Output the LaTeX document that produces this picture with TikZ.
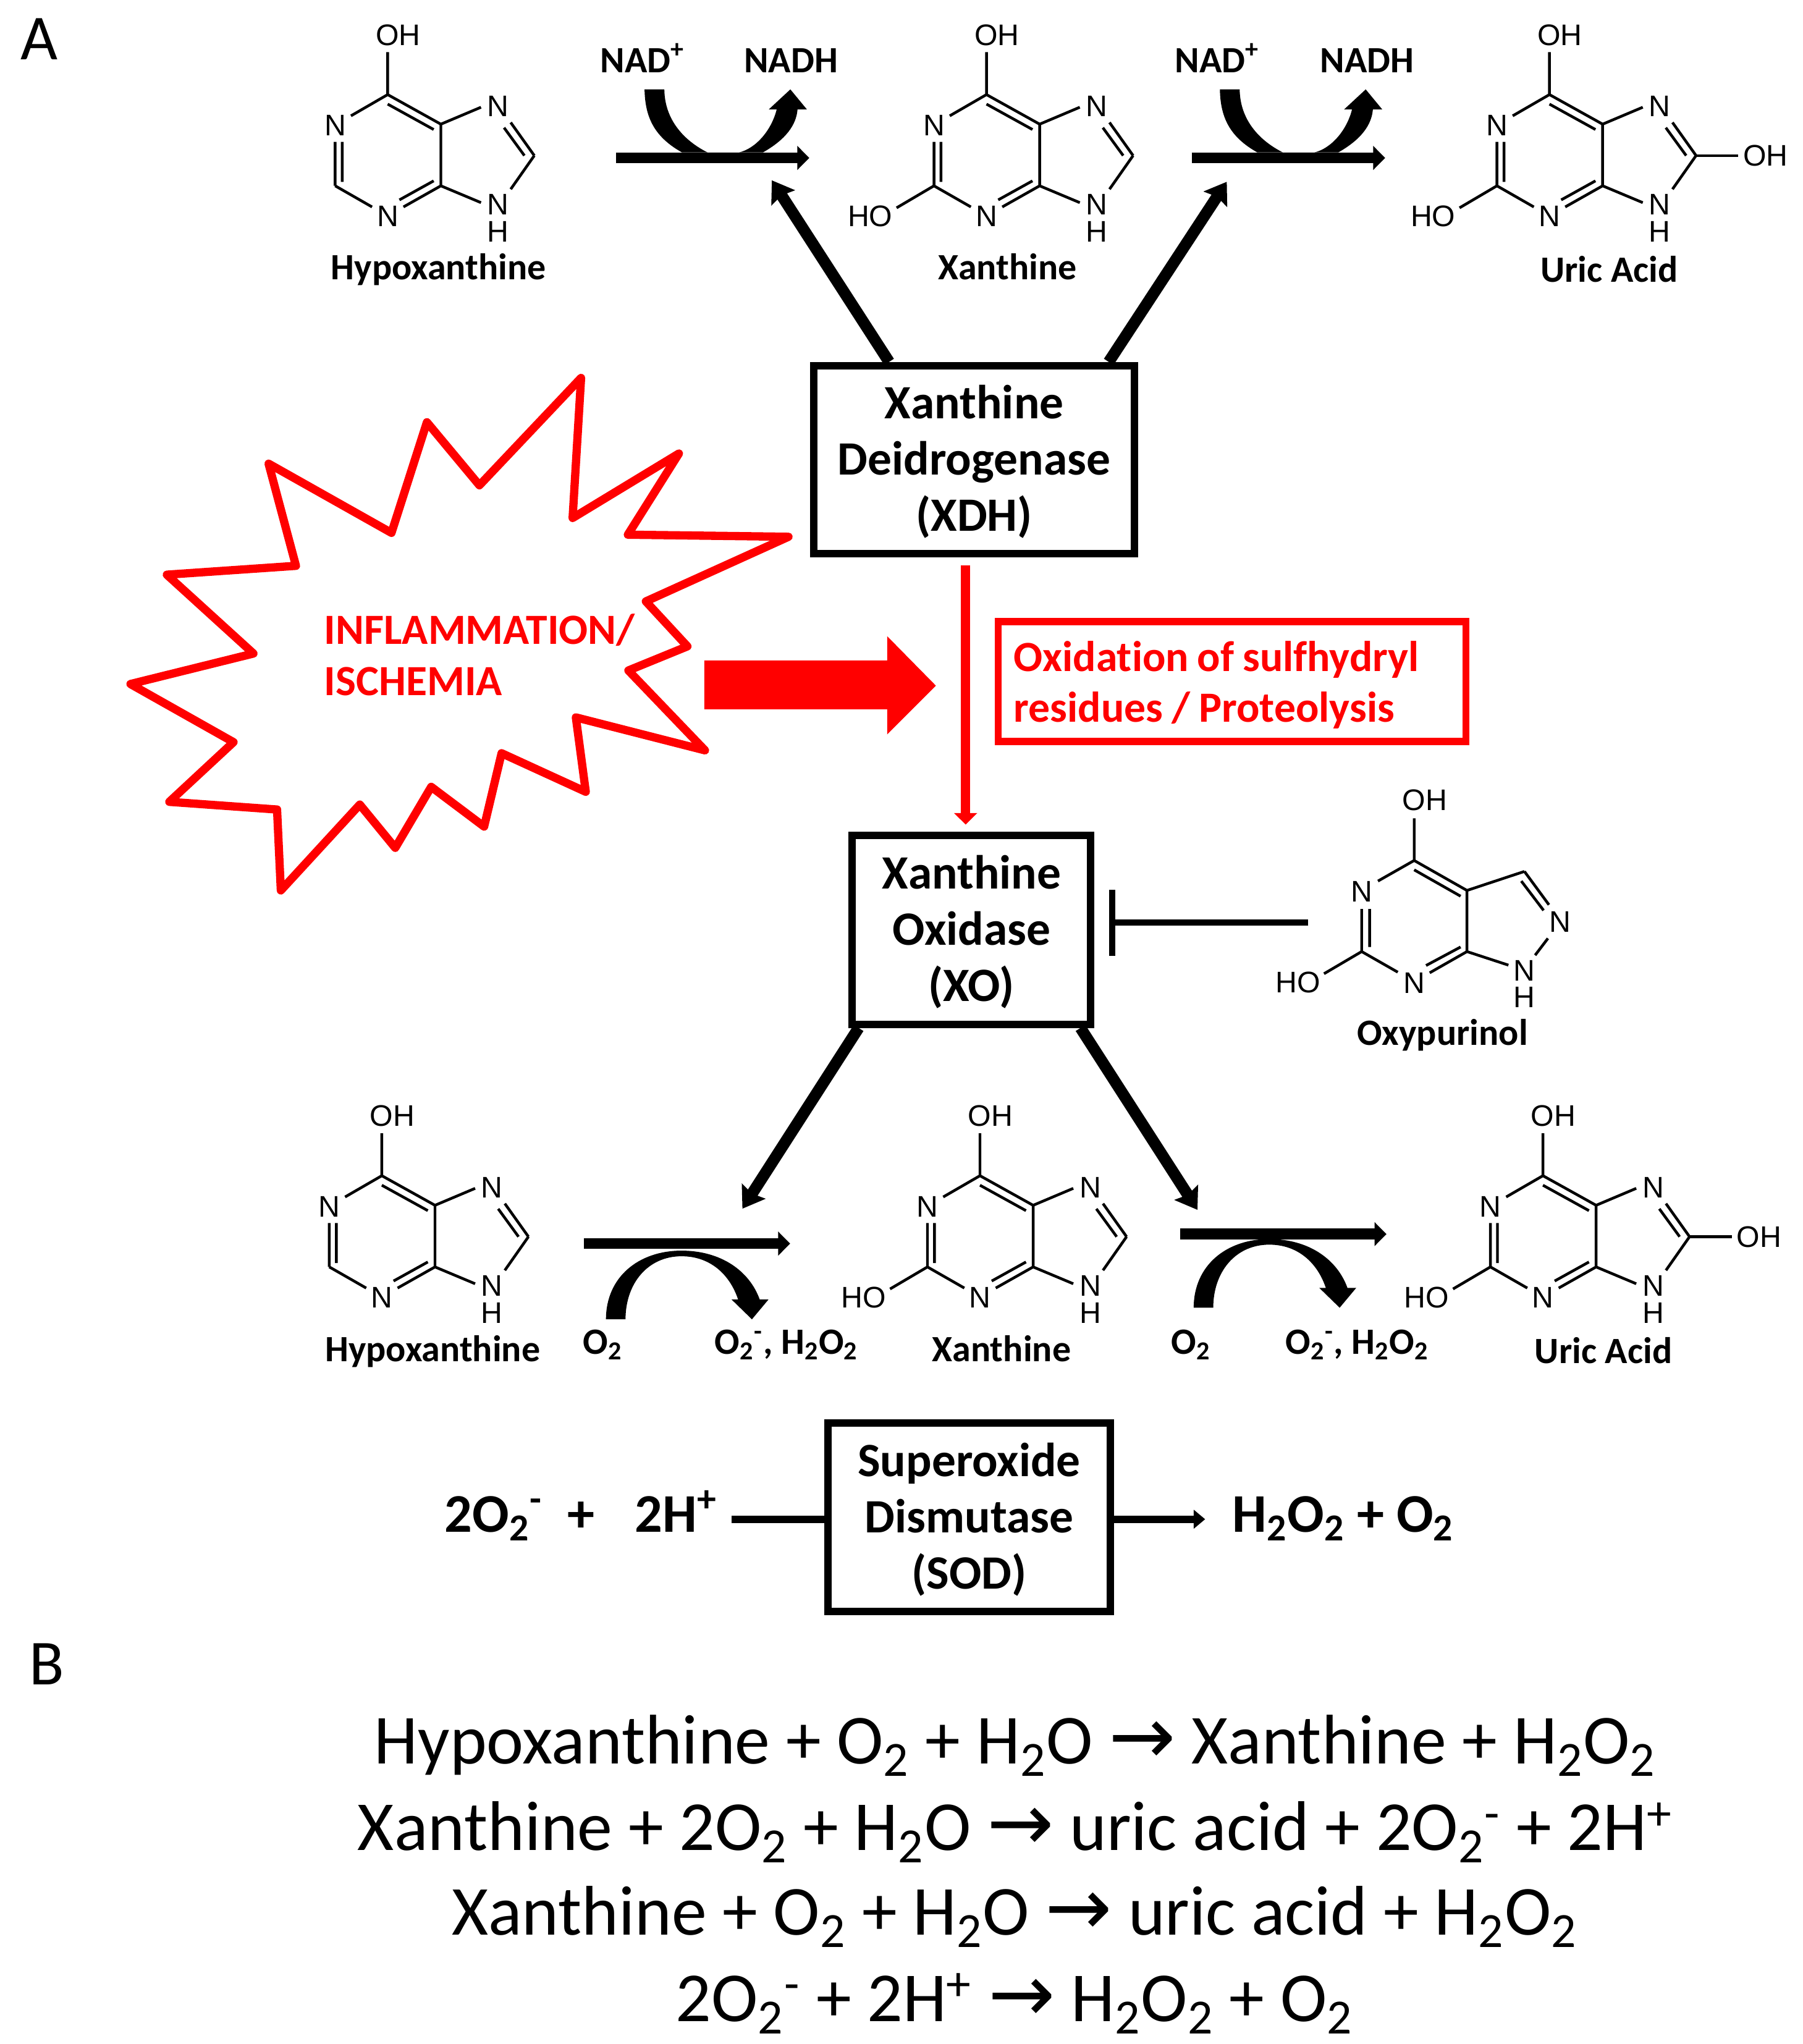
\documentclass[tikz,border=0pt]{standalone}
\usepackage{fontspec}
\setmainfont{Carlito}[Ligatures={TeX,NoCommon}]
\newfontfamily\atomfont{Liberation Sans}
\newfontfamily\arrowfont{DejaVu Sans}
\usetikzlibrary{arrows.meta}
\newcommand{\subt}{\textsubscript{2}}
\newcommand{\rarr}{{\arrowfont\fontsize{35}{36}\selectfont\char"2192}}
% taller first line, pushes the box text down a little
\newcommand{\lift}{\rule{0pt}{16.6pt}}
% align=left sets its own word space, this has to come inside the node text
\newcommand{\tightsp}{\spaceskip=.2em\relax}
\tikzset{
  atom/.style={inner sep=0pt,font=\atomfont\fontsize{13}{14}\selectfont},
  bond/.style={line width=1.2pt,line join=round},
  lab/.style={inner sep=0pt,anchor=base,font=\fontsize{16.2}{18}\selectfont\bfseries},
  enzyme/.style={draw,line width=3.2pt,inner sep=0pt,align=center,
    font=\fontsize{20.9}{24.55}\selectfont\bfseries},
  eq/.style={inner sep=0pt,anchor=base,font=\fontsize{30.7}{36}\selectfont},
  eqb/.style={inner sep=0pt,anchor=base west,font=\fontsize{23.8}{27}\selectfont\bfseries},
  bar/.style={line width=4.76pt,-{Triangle[length=5.2pt,width=10.2pt]}},
  enzarrow/.style={line width=5pt,-{Stealth[length=9pt,width=12pt,inset=1.2pt]}},
  % purine skeleton, origin on the carbon carrying the top OH
  purine/.pic={
    \draw[bond] (0,0)--(0,-32.6) (0,0)--(-28.2,16.3)
      (-40.3,36.3)--(-40.3,70) (-34.9,36.3)--(-34.9,67)
      (-40.3,70)--(-12,86.2)
      (12.1,86.2)--(40.8,70) (9,80.8)--(35.3,66.2)
      (40.8,22.7)--(40.8,70)
      (0,0)--(40.8,22.7) (0,7.3)--(35.3,26.8)
      (40.8,22.7)--(71.6,9.7)
      (94.4,21.4)--(112.5,46.8) (89.3,25.4)--(104.9,46.8)
      (112.5,46.8)--(94.4,72.6)
      (40.8,70)--(71.6,82.9);
    \node[atom] (-oh) at (8,-45.7) {OH};
    \node[atom] (-n1) at (-40.3,23.6) {N};
    \node[atom] (-n3) at (0,93.4) {N};
    \node[atom] (-n7) at (84.6,9.1) {N};
    \node[atom] (-n9) at (84.6,84.4) {N};
    \node[atom] (-h9) at (84.6,105.3) {H};
  },
  hotwo/.pic={
    \draw[bond] (-40.3,70)--(-69,86.9);
    \node[atom] (-ho) at (-89.3,93.4) {HO};
  },
  oheight/.pic={
    \draw[bond] (112.5,46.8)--(145,46.8);
    \node[atom] (-oh8) at (165.8,46.8) {OH};
  },
  % curved cofactor arrows, drawn at their first position
  nadcurve/.pic={
    \fill (494.6,68.6) .. controls (495,90) and (502,105) .. (523.4,117)
      -- (585.4,117) .. controls (603,107) and (611,96) .. (612,84)
      -- (619.2,84) -- (606.5,68.6) -- (589.9,84) -- (596,84)
      .. controls (592,100) and (580,114) .. (567,117) -- (543,117)
      .. controls (525,108) and (510,92) .. (509.8,68.6) -- cycle;
  },
  oxcurve/.pic={
    \fill (465,1012.4) .. controls (465,980) and (490,959.7) .. (523,959.7)
      .. controls (553,959.7) and (575,975) .. (583,997.2)
      -- (589.7,997.2) -- (577,1012.4) -- (561.4,997.2) -- (566.4,997.2)
      .. controls (560,978) and (545,964) .. (523,964)
      .. controls (497,964) and (480,985) .. (480,1012.4) -- cycle;
  }
}
\begin{document}
\begin{tikzpicture}[x=0.02cm,y=-0.02cm]
  \useasboundingbox (0,0) rectangle (1383.1,1568.5);
  \node[inner sep=0pt,font=\fontsize{28}{30}\selectfont] (pa) at (30,30) {A};
  \node[inner sep=0pt,font=\fontsize{28}{30}\selectfont] (pb) at (36,1277) {B};
  %
  % Top row
  \pic (h1) at (297.5,72.6) {purine};
  \pic (x1) at (757,72.6) {purine};
  \pic (x1b) at (757,72.6) {hotwo};
  \pic (u1) at (1189,72.6) {purine};
  \pic (u1b) at (1189,72.6) {hotwo};
  \pic (u1c) at (1189,72.6) {oheight};
  \node[lab] (lh1) at (336.5,214.7) {Hypoxanthine};
  \node[lab] (lx1) at (773,214.7) {Xanthine};
  \node[lab] (lu1) at (1235,216.5) {Uric Acid};
  \node[lab] (nad1) at (493,55.5) {NAD\textsuperscript{+}};
  \node[lab] (nadh1) at (607,55.5) {NADH};
  \node[lab] (nad2) at (934,55.5) {NAD\textsuperscript{+}};
  \node[lab] (nadh2) at (1049,55.5) {NADH};
  \coordinate (b1s) at (472.9,121.2);
  \coordinate (b1e) at (621,121.2);
  \coordinate (b2s) at (914.5,121.2);
  \coordinate (b2e) at (1062.9,121.2);
  \pic at (0,0) {nadcurve};
  \pic at (441.5,0) {nadcurve};
  \draw[bar] (b1s) -- (b1e);
  \draw[bar] (b2s) -- (b2e);
  %
  % Enzymes
  \node[enzyme,minimum width=4.92cm,minimum height=2.89cm] (xdh) at (747.5,352.75)
    {\lift Xanthine\\Deidrogenase\\(XDH)};
  \node[enzyme,minimum width=3.66cm,minimum height=2.9cm] (xo) at (745.5,713.5)
    {\lift Xanthine\\Oxidase\\(XO)};
  \node[enzyme,minimum width=4.33cm,minimum height=2.89cm] (sod) at (743.75,1164.25)
    {\lift Superoxide\\Dismutase\\(SOD)};
  \coordinate (t1) at (592.3,138.4);
  \coordinate (t2) at (941.4,139.5);
  \coordinate (t3) at (569.7,927.5);
  \coordinate (t4) at (918.9,928.4);
  \draw[enzarrow] (xdh.131.7) -- (t1);
  \draw[enzarrow] (xdh.36.1) -- (t2);
  \draw[enzarrow] (xo.221.7) -- (t3);
  \draw[enzarrow] (xo.-42.5) -- (t4);
  %
  % Inflammation burst
  \draw[red,line width=3.6pt,line join=round]
    (445.9,290)--(439.4,397.5)--(521,348)--(481.8,410.3)--(605.1,411.9)
    --(495.6,461.5)--(527.5,496)--(482.2,514.5)--(541,575.8)--(441.9,550.5)
    --(449.5,607.6)--(384.9,578)--(371.5,634.3)--(330.9,603.8)--(303.3,650.6)
    --(276.1,617.4)--(215.5,683.3)--(212.6,621.2)--(129.9,615.3)--(179.2,569.5)
    --(100.1,524.9)--(194.5,501.5)--(128,441)--(227.1,434.2)--(206.1,355.8)
    --(300.4,408.9)--(327.6,324)--(367.9,372.4)--cycle;
  \node[red,inner sep=0pt,align=left,anchor=west,
    font=\fontsize{18.8}{22.3}\selectfont\bfseries] (infl) at (248.5,502.5)
    {INFLAMMATION/\\ISCHEMIA};
  \fill[red] (540.5,506.8)--(680.8,506.8)--(680.8,488.2)--(718.2,526.2)
    --(680.8,563.6)--(680.8,544.3)--(540.5,544.3)--cycle;
  \node[draw=red,red,line width=3pt,minimum width=7.18cm,minimum height=1.84cm,
    inner xsep=0.24cm,inner ysep=0pt,text width=6.7cm,align=left,
    font=\fontsize{18.8}{22}\selectfont\bfseries] (ox) at (945.5,523)
    {\tightsp\rule{0pt}{16.1pt}Oxidation of sulfhydryl\\residues / Proteolysis};
  \coordinate (rx) at (741,0);
  \draw[red,line width=4pt,shorten <=3.4pt,shorten >=3.1pt,
    -{Triangle[length=5pt,width=9.8pt]}] (xdh.south -| rx) -- (xo.north -| rx);
  %
  % Oxypurinol
  \draw[bond] (1085.2,660.3)--(1085.2,628) (1085.2,660.3)--(1057.4,676.1)
    (1044.9,697.5)--(1044.9,730.2) (1051,697.5)--(1051,726.7)
    (1044.9,730.2)--(1072.6,746) (1044.9,730.2)--(1016,747.2)
    (1097.1,746.5)--(1125.7,730.2) (1094.3,740.9)--(1120.8,726.7)
    (1125.7,683.3)--(1125.7,730.2)
    (1125.7,683.3)--(1085.2,660.3) (1085.2,667.5)--(1120.8,687.7)
    (1125.7,683.3)--(1169.8,668.7)
    (1169.8,668.7)--(1188.6,694.3) (1167.4,676.1)--(1184.5,698.6)
    (1187.8,720.1)--(1178,733)
    (1125.7,730.2)--(1157.5,740.6);
  \node[atom] (oh) at (1093.4,614) {OH};
  \node[atom] (on1) at (1044.9,684) {N};
  \node[atom] (on3) at (1085.2,754.4) {N};
  \node[atom] (on2) at (1197.2,707.4) {N};
  \node[atom] (on9) at (1169.5,744.9) {N};
  \node[atom] (oh9) at (1169.5,765.4) {H};
  \node[atom] (oho) at (995.9,753.9) {HO};
  \node[lab] (loxy) at (1107,802) {Oxypurinol};
  \coordinate (inhs) at (1004,708);
  \coordinate (inhe) at (851,708);
  \draw[line width=2.8pt,-{Bar[width=28.8pt,line width=2.8pt]}] (inhs) -- (inhe);
  %
  % Lower row
  \pic (h2) at (293,902.2) {purine};
  \pic (x2) at (752,902.2) {purine};
  \pic (x2b) at (752,902.2) {hotwo};
  \pic (u2) at (1184,902.2) {purine};
  \pic (u2b) at (1184,902.2) {hotwo};
  \pic (u2c) at (1184,902.2) {oheight};
  \node[lab] (lh2) at (332,1045) {Hypoxanthine};
  \node[lab] (lx2) at (768.5,1045) {Xanthine};
  \node[lab] (lu2) at (1230.5,1046) {Uric Acid};
  \coordinate (b3s) at (448.3,954.3);
  \coordinate (b3e) at (606.3,954.3);
  \coordinate (b4s) at (905.5,947);
  \coordinate (b4e) at (1063.9,947);
  \draw[bar] (b3s) -- (b3e);
  \draw[bar] (b4s) -- (b4e);
  \pic at (0,0) {oxcurve};
  \pic at (451,-8.9) {oxcurve};
  \node[lab] (o1) at (462.6,1039) {O\subt};
  \node[lab] (o2) at (603.5,1039) {O\subt\textsuperscript{-}, H\subt O\subt};
  \node[lab] (o3) at (914,1039) {O\subt};
  \node[lab] (o4) at (1041.5,1039) {O\subt\textsuperscript{-}, H\subt O\subt};
  %
  % SOD reaction
  \node[eqb] (sodl) at (341,1175.8) {2O\subt\textsuperscript{-}\ \ +\ \ \hspace{7pt}2H\textsuperscript{+}};
  \node[eqb] (sodr) at (945.5,1175.8) {H\subt O\subt\ +\ O\subt};
  \coordinate (sl) at (561.4,1165.8);
  \coordinate (sr) at (924.8,1165.8);
  \draw[line width=3.2pt] (sl) -- (sl -| sod.west);
  \draw[line width=3.2pt,-{Triangle[length=5pt,width=8pt]}] (sr -| sod.east) -- (sr);
  %
  % Panel B
  \node[eq] (e1) at (779,1353.5) {Hypoxanthine + O\subt\ + H\subt O \rarr\ Xanthine + H\subt O\subt};
  \node[eq] (e2) at (779,1420) {Xanthine + 2O\subt\ + H\subt O \rarr\ uric acid + 2O\subt\textsuperscript{-} + 2H\textsuperscript{+}};
  \node[eq] (e3) at (778.5,1485) {Xanthine + O\subt\ + H\subt O \rarr\ uric acid + H\subt O\subt};
  \node[eq] (e4) at (778.5,1551) {2O\subt\textsuperscript{-} + 2H\textsuperscript{+} \rarr\ H\subt O\subt\ + O\subt};
\end{tikzpicture}
\end{document}
